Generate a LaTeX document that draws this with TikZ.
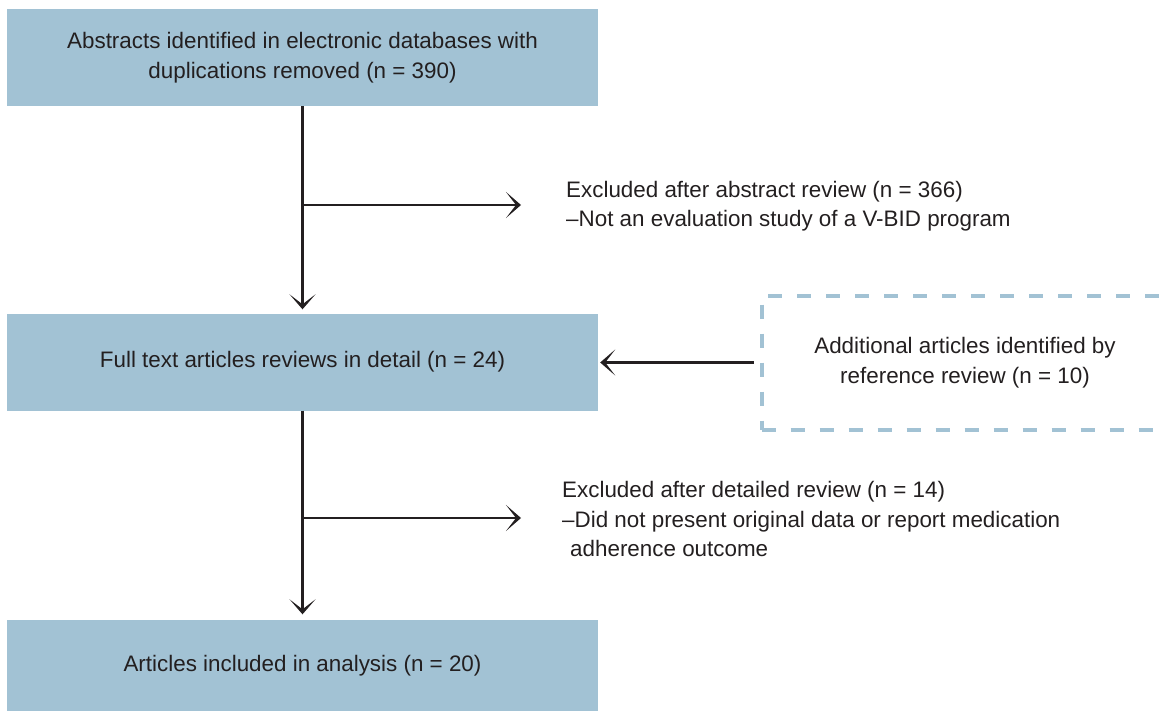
\documentclass[tikz,border=0pt]{standalone}
\usepackage{fontspec}
\setmainfont{Liberation Sans}
\usetikzlibrary{arrows.meta}
\definecolor{boxblue}{HTML}{A2C2D4}
\definecolor{ink}{HTML}{231F20}
\begin{document}
\begin{tikzpicture}[x=1pt,y=-1pt,
  txt/.style={text=ink, font=\fontsize{22.4}{29.5}\selectfont, inner sep=0pt},
  bluebox/.style={txt, fill=boxblue, minimum width=591pt, align=center},
  dashbox/.style={txt, draw=boxblue, line width=4pt, dash pattern=on 14pt off 15pt,
     minimum width=407pt, minimum height=134pt, align=center},
  arr/.style={draw=ink, line width=2.6pt, -{Stealth[length=15pt,width=26pt,inset=10pt]}}]
\useasboundingbox (0,0) rectangle (1166,711);
\clip (0,0) rectangle (1166,711);
\node[bluebox, minimum height=97pt] (top) at (302.5,57.5)
  {Abstracts identified in electronic databases with\\duplications removed (n = 390)};
\node[bluebox, minimum height=97pt] (mid) at (302.5,362)
  {Full text articles reviews in detail (n = 24)};
\node[bluebox, minimum height=92pt] (bot) at (302.5,665.5)
  {Articles included in analysis (n = 20)};
\node[dashbox] (add) at (965,362.5)
  {Additional articles identified by\\reference review (n = 10)};
\node[txt, anchor=west, align=left] (ex1) at (566,206)
  {Excluded after abstract review (n = 366)\\--Not an evaluation study of a V-BID program};
\node[txt, anchor=west, align=left] (ex2) at (562,519)
  {Excluded after detailed review (n = 14)\\--Did not present original data or report medication\\\hspace*{8pt}adherence outcome};
\coordinate (j1) at (302.5,205);
\coordinate (e1) at (521,205);
\coordinate (j2) at (302.5,518);
\coordinate (e2) at (521,518);
\draw[arr, shorten >=4pt] (top.south) -- (mid.north);
\draw[arr, shorten >=5pt] (mid.south) -- (bot.north);
\draw[arr] (j1) -- (e1);
\draw[arr] (j2) -- (e2);
\draw[arr, shorten <=6pt, shorten >=2pt] (add.west) -- (add.west -| mid.east);
\end{tikzpicture}
\end{document}
